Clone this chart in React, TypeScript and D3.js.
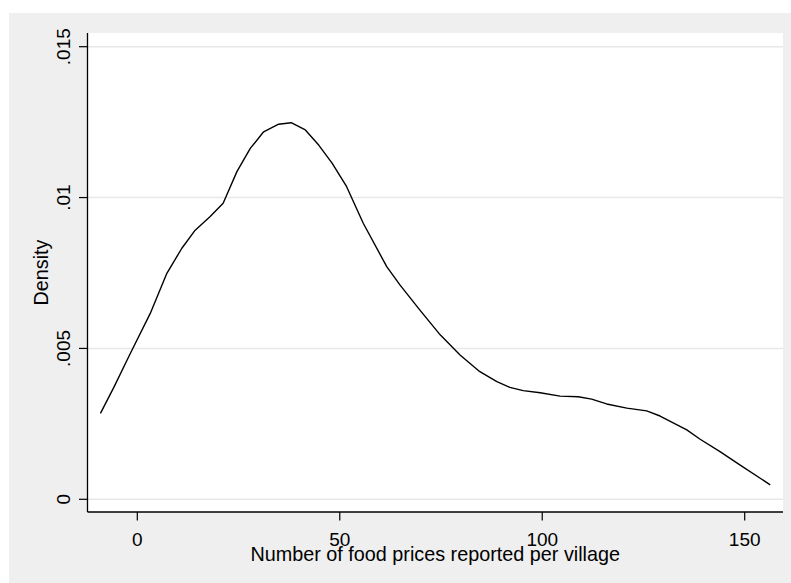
import { useEffect, useRef } from 'react';
import * as d3 from 'd3';

// kernel density estimate
const foodPrices: number[] = [
  -9.1, -5.8, -1.7, 3.2, 7.3, 11.0, 14.3, 18.0, 21.2, 24.6, 27.9, 31.2, 34.9, 38.0,
  41.5, 44.8, 48.1, 51.7, 55.8, 61.6, 64.9, 69.8, 74.8, 79.7, 84.6, 88.8, 92.0, 95.3,
  99.5, 104.4, 108.9, 112.2, 115.9, 120.9, 125.8, 129.1, 135.7, 139.0, 143.9, 148.8, 156.3,
];
const density: number[] = [
  0.00285, 0.00371, 0.00484, 0.00616, 0.00749, 0.00832, 0.00892, 0.00937, 0.00981, 0.01086,
  0.01163, 0.01218, 0.01243, 0.01248, 0.01224, 0.01174, 0.01114, 0.01036, 0.00915, 0.00771,
  0.0071, 0.00627, 0.00545, 0.00478, 0.00423, 0.0039, 0.00371, 0.0036, 0.00353, 0.00342,
  0.0034, 0.00332, 0.00316, 0.00302, 0.00293, 0.00276, 0.0023, 0.00199, 0.00158, 0.00114,
  0.00048,
];
const xTicks: number[] = [0, 50, 100, 150];
const yTicks: number[] = [0, 0.005, 0.01, 0.015];
const yTickLabels: string[] = ['0', '.005', '.01', '.015'];

export default function App() {
  const ref = useRef<SVGSVGElement | null>(null);

  useEffect(() => {
    const svg = d3.select(ref.current);
    svg.selectAll('*').remove();

    const W = 791;
    const H = 583;
    const plot = { left: 87.5, top: 33, right: 783, bottom: 512 };
    const font = 'Liberation Sans, Arial, sans-serif';

    // outer graph region
    svg.append('rect').attr('x', 9).attr('y', 13).attr('width', W - 9).attr('height', H - 13).attr('fill', '#efefef');
    svg.append('rect')
      .attr('x', plot.left).attr('y', plot.top)
      .attr('width', plot.right - plot.left).attr('height', plot.bottom - plot.top)
      .attr('fill', '#fff');

    const x = d3.scaleLinear().domain([0, 150]).range([137.3, 744.7]);
    const y = d3.scaleLinear().domain([0, 0.015]).range([499.3, 46.7]);

    // gridlines
    svg.selectAll('.grid')
      .data(yTicks)
      .enter()
      .append('line')
      .attr('x1', plot.left).attr('x2', plot.right)
      .attr('y1', d => y(d)).attr('y2', d => y(d))
      .attr('stroke', '#e8e8e8')
      .attr('stroke-width', 1.5);

    // curve
    const pts: [number, number][] = foodPrices.map((v, i) => [v, density[i]]);
    const line = d3.line<[number, number]>().x(d => x(d[0])).y(d => y(d[1]));
    svg.append('path')
      .datum(pts)
      .attr('d', line)
      .attr('fill', 'none')
      .attr('stroke', '#000')
      .attr('stroke-width', 1.4)
      .attr('stroke-linejoin', 'round');

    // axes
    svg.append('line')
      .attr('x1', plot.left).attr('x2', plot.left).attr('y1', plot.top).attr('y2', plot.bottom)
      .attr('stroke', '#000').attr('stroke-width', 1.3);
    svg.append('line')
      .attr('x1', plot.left).attr('x2', plot.right).attr('y1', plot.bottom).attr('y2', plot.bottom)
      .attr('stroke', '#000').attr('stroke-width', 1.3);

    svg.selectAll('.ytick')
      .data(yTicks)
      .enter()
      .append('line')
      .attr('x1', 79).attr('x2', plot.left)
      .attr('y1', d => y(d)).attr('y2', d => y(d))
      .attr('stroke', '#000').attr('stroke-width', 1.2);

    svg.selectAll('.ylabel')
      .data(yTicks)
      .enter()
      .append('text')
      .text((_d, i) => yTickLabels[i])
      .attr('transform', d => `translate(70,${y(d)}) rotate(-90)`)
      .attr('text-anchor', 'middle')
      .attr('font-family', font)
      .attr('font-size', '19px')
      .attr('fill', '#000');

    svg.selectAll('.xtick')
      .data(xTicks)
      .enter()
      .append('line')
      .attr('x1', d => x(d)).attr('x2', d => x(d))
      .attr('y1', plot.bottom).attr('y2', 520.5)
      .attr('stroke', '#000').attr('stroke-width', 1.2);

    svg.selectAll('.xlabel')
      .data(xTicks)
      .enter()
      .append('text')
      .text(d => String(d))
      .attr('x', d => x(d))
      .attr('y', 546)
      .attr('text-anchor', 'middle')
      .attr('font-family', font)
      .attr('font-size', '19px')
      .attr('fill', '#000');

    svg.append('text')
      .text('Number of food prices reported per village')
      .attr('x', (plot.left + plot.right) / 2)
      .attr('y', 560.7)
      .attr('text-anchor', 'middle')
      .attr('font-family', font)
      .attr('font-size', '19.8px')
      .attr('fill', '#000');

    svg.append('text')
      .text('Density')
      .attr('transform', `translate(48.3,${(plot.top + plot.bottom) / 2}) rotate(-90)`)
      .attr('text-anchor', 'middle')
      .attr('font-family', font)
      .attr('font-size', '19.8px')
      .attr('fill', '#000');
  }, []);

  return (
    <svg
      ref={ref}
      width={791}
      height={583}
      style={{ position: 'absolute', left: 0, top: 0, background: '#fff' }}
    />
  );
}
